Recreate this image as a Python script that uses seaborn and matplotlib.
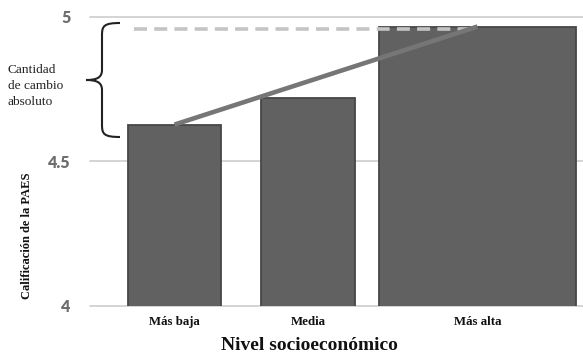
import pandas as pd
import matplotlib.pyplot as plt
import seaborn as sns
from matplotlib.path import Path
from matplotlib.patches import PathPatch

# datos
niveles = ['Más baja', 'Media', 'Más alta']
calificacion = [4.627, 4.72, 4.966]
y_ticks = [4, 4.5, 5]
y_tick_labels = ['4', '4.5', '5']

# la barra "Más alta" es mas ancha y esta desplazada (unidades de eje)
barra_ancha = {'centro': 2.27, 'ancho': 1.48}

sns.set_theme(style='white')
plt.rcParams['font.family'] = ['Liberation Serif', 'DejaVu Serif']

data = pd.DataFrame({'nivel': niveles, 'calif': calificacion})

fig = plt.figure(figsize=(5.83, 3.58), dpi=100)
W, H = 583, 358
ax = fig.add_axes([90 / W, (358 - 306) / H, 493 / W, (306 - 16.7) / H])

sns.barplot(data=data, x='nivel', y='calif', color='#616161',
            edgecolor='#474747', linewidth=1.3, width=0.7, saturation=1,
            ax=ax, zorder=2)

barras = ax.patches
b = barras[-1]
b.set_x(barra_ancha['centro'] - barra_ancha['ancho'] / 2)
b.set_width(barra_ancha['ancho'])
centros = [p.get_x() + p.get_width() / 2 for p in barras]

ax.set_xlim(-0.633, 3.06)
ax.set_ylim(4, 5)

# lineas de referencia
for y in y_ticks:
    ax.axhline(y, color='#c9c9c9', lw=1.1, zorder=0, clip_on=False)

# linea de cambio (de la barra mas baja a la mas alta)
ax.plot([centros[0], centros[-1]], [calificacion[0], calificacion[-1]],
        color='#767676', lw=3.3, solid_capstyle='butt', zorder=4)

# linea discontinua al nivel mas alto
ax.plot([-0.3, centros[-1] - 0.02], [calificacion[-1] - 0.01] * 2,
        color='#c4c4c4', lw=2.6, dashes=(3.6, 2.0), zorder=3)

ax.set_xticks(centros)
ax.set_xticklabels(niveles, fontsize=9.3, fontweight='bold', color='#111111')
ax.set_yticks(y_ticks)
ax.set_yticklabels(y_tick_labels, family=['Lato', 'DejaVu Sans'],
                   fontsize=11.5, fontweight='heavy', color='#6e6e6e')
ax.tick_params(axis='x', length=0, pad=7)
ax.tick_params(axis='y', length=0, pad=14)
for s in ax.spines.values():
    s.set_visible(False)

ax.set_xlabel('Nivel socioeconómico', fontsize=14, fontweight='bold',
              color='#111111', va='center')
ax.xaxis.set_label_coords((309 - 90) / 493, (306 - 346) / 289.3)
ax.set_ylabel('Calificación de la PAES', fontsize=9, fontweight='bold',
              color='#111111', va='center')
ax.yaxis.set_label_coords((27 - 90) / 493, (306 - 236) / 289.3)

# llave "cantidad de cambio absoluto" (coordenadas en pixeles de figura)
pts = [(120, 23), (104, 23), (102, 26), (102, 35),
       (102, 70),
       (102, 78), (96, 80), (86, 80),
       (96, 80), (102, 82), (102, 90),
       (102, 125),
       (102, 134), (104, 137), (120, 137)]
codes = [Path.MOVETO, Path.CURVE4, Path.CURVE4, Path.CURVE4,
         Path.LINETO,
         Path.CURVE4, Path.CURVE4, Path.CURVE4,
         Path.CURVE4, Path.CURVE4, Path.CURVE4,
         Path.LINETO,
         Path.CURVE4, Path.CURVE4, Path.CURVE4]
verts = [(x / W, (H - y) / H) for x, y in pts]
fig.patches.append(PathPatch(Path(verts, codes), transform=fig.transFigure,
                             fill=False, edgecolor='#222222', lw=1.5))

fig.text(8 / W, (H - 64) / H, 'Cantidad\nde cambio\nabsoluto', fontsize=9.6,
         color='#222222', ha='left', va='top', linespacing=1.45)

fig.savefig('out.png', dpi=100)
